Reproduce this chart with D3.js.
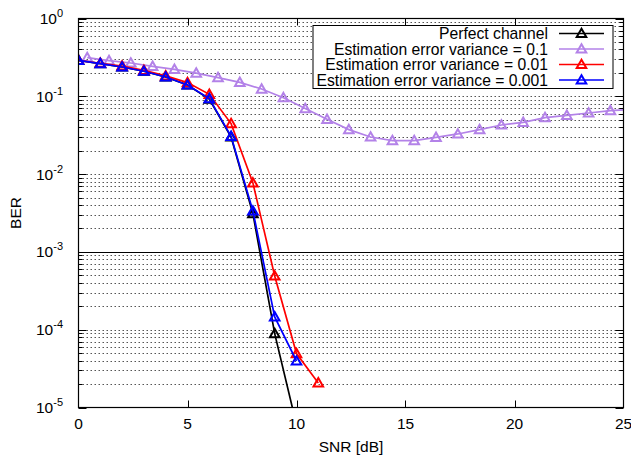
<!DOCTYPE html>
<html lang="en">
<head>
    <meta charset="UTF-8" />
    <title>BER vs SNR</title>
    <script src="https://d3js.org/d3.v7.min.js"></script>
    <style>
        body {
            margin: 0;
            background-color: #fff;
        }
        text {
            font-family: 'Liberation Sans', Arial, sans-serif;
            font-size: 15.5px;
            fill: #000;
        }
    </style>
</head>
<body>
    <svg id="chart"></svg>

    <script>
        // Data
        const snr = [0, 1, 2, 3, 4, 5, 6, 7, 8, 9, 10, 11];
        const perfect = [0.29, 0.263, 0.238, 0.21, 0.177, 0.14, 0.092, 0.030, 0.0031, 8.9e-5, 6e-6];
        const var01 = [0.29, 0.266, 0.245, 0.216, 0.183, 0.15, 0.106, 0.0446, 0.0077, 4.9e-4, 4.93e-5, 2.07e-5];
        const var001 = [0.29, 0.263, 0.238, 0.21, 0.177, 0.14, 0.0933, 0.0306, 0.00336, 1.46e-4, 3.96e-5];
        // the 0.1 curve is sampled half a step off the others
        const snrShifted = [0.4, 1.4, 2.4, 3.4, 4.4, 5.4, 6.4, 7.4, 8.4, 9.4, 10.4, 11.4, 12.4,
            13.4, 14.4, 15.4, 16.4, 17.4, 18.4, 19.4, 20.4, 21.4, 22.4, 23.4, 24.4, 25.4];
        const var1 = [0.314, 0.288, 0.268, 0.243, 0.222, 0.199, 0.174, 0.151, 0.124, 0.096, 0.0695,
            0.0506, 0.0373, 0.030, 0.0269, 0.0269, 0.0297, 0.0328, 0.0373, 0.0428, 0.0463, 0.0532,
            0.057, 0.061, 0.0655, 0.068];

        const xTicks = [0, 5, 10, 15, 20, 25];
        const yExponents = [0, -1, -2, -3, -4, -5];

        const series = [
            { name: "Perfect channel", x: snr, y: perfect, color: "#000000" },
            { name: "Estimation error variance = 0.1", x: snrShifted, y: var1, color: "#b382e8" },
            { name: "Estimation error variance = 0.01", x: snr, y: var01, color: "#ff0000" },
            { name: "Estimation error variance = 0.001", x: snr, y: var001, color: "#0000ff" }
        ];

        const W = 631, H = 459;
        const pLeft = 78.5, pRight = 623.5, pTop = 18.5, pBottom = 407.5;

        const svg = d3.select("#chart")
            .attr("width", W)
            .attr("height", H);

        const x = d3.scaleLinear().domain([0, 25]).range([pLeft, pRight]);
        const y = d3.scaleLog().domain([1e-5, 1]).range([pBottom, pTop]);

        svg.append("clipPath").attr("id", "plotArea")
            .append("rect")
            .attr("x", pLeft).attr("y", pTop)
            .attr("width", pRight - pLeft).attr("height", pBottom - pTop);

        // Horizontal grid, every minor and major value of each decade
        const gridVals = [];
        for (let e = -5; e < 0; e++) {
            for (let m = 1; m <= 9; m++) {
                gridVals.push(m * Math.pow(10, e));
            }
        }
        const grid = svg.append("g");
        gridVals.forEach(v => {
            if (Math.abs(Math.log10(v) + 5) < 1e-9) return;
            const yy = Math.round(y(v)) + 0.5;
            const solid = Math.abs(Math.log10(v) + 3) < 1e-9;
            grid.append("line")
                .attr("x1", pLeft).attr("x2", pRight)
                .attr("y1", yy).attr("y2", yy)
                .attr("stroke", solid ? "#000" : "#555")
                .attr("stroke-width", 1)
                .attr("stroke-dasharray", solid ? null : "1.5,2.5");
        });

        // Y ticks on both sides (major and minor)
        const ticks = svg.append("g").attr("stroke", "#000").attr("stroke-width", 1);
        gridVals.concat([1]).forEach(v => {
            const yy = Math.round(y(v)) + 0.5;
            const major = Math.abs(Math.log10(v) - Math.round(Math.log10(v))) < 1e-9;
            const len = major ? 8 : 4;
            ticks.append("line").attr("x1", pLeft).attr("x2", pLeft + len).attr("y1", yy).attr("y2", yy);
            ticks.append("line").attr("x1", pRight).attr("x2", pRight - len).attr("y1", yy).attr("y2", yy);
        });

        // X ticks, bottom and top
        xTicks.slice(1, -1).forEach(t => {
            const xx = Math.round(x(t)) + 0.5;
            ticks.append("line").attr("x1", xx).attr("x2", xx).attr("y1", pBottom).attr("y2", pBottom - 7);
            ticks.append("line").attr("x1", xx).attr("x2", xx).attr("y1", pTop).attr("y2", pTop + 7);
        });

        // Tick labels
        xTicks.forEach(t => {
            svg.append("text")
                .attr("x", x(t))
                .attr("y", 429)
                .attr("text-anchor", "middle")
                .text(t);
        });

        yExponents.forEach(e => {
            const label = svg.append("text")
                .attr("x", 63)
                .attr("y", y(Math.pow(10, e)) + 5.5)
                .attr("text-anchor", "end");
            label.append("tspan").text("10");
            label.append("tspan")
                .attr("dy", -7)
                .style("font-size", "11px")
                .text(e === 0 ? "0" : "-" + (-e));
        });

        // Axis titles
        svg.append("text")
            .attr("x", (pLeft + pRight) / 2)
            .attr("y", 452)
            .attr("text-anchor", "middle")
            .text("SNR [dB]");

        svg.append("text")
            .attr("transform", "translate(21," + (pTop + pBottom) / 2 + ") rotate(-90)")
            .attr("text-anchor", "middle")
            .text("BER");

        // Triangle marker path
        const tri = (cx, cy) => {
            const s = 4.8;
            return "M" + cx + "," + (cy - s) + "L" + (cx + s) + "," + (cy + s * 0.75) +
                "L" + (cx - s) + "," + (cy + s * 0.75) + "Z";
        };

        const plot = svg.append("g").attr("clip-path", "url(#plotArea)");
        const line = d3.line()
            .x(d => x(d[0]))
            .y(d => y(d[1]));

        series.forEach(s => {
            const pts = s.y.map((v, i) => [s.x[i], v]);
            plot.append("path")
                .datum(pts)
                .attr("fill", "none")
                .attr("stroke", s.color)
                .attr("stroke-width", 1.7)
                .attr("d", line);
            plot.selectAll(null)
                .data(pts.filter(p => p[0] <= 25 && p[1] >= 1e-5))
                .enter()
                .append("path")
                .attr("d", p => tri(x(p[0]), y(p[1])))
                .attr("fill", "none")
                .attr("stroke", s.color)
                .attr("stroke-width", 2);
        });

        // Plot border
        svg.append("rect")
            .attr("x", pLeft).attr("y", pTop)
            .attr("width", pRight - pLeft).attr("height", pBottom - pTop)
            .attr("fill", "none")
            .attr("stroke", "#000")
            .attr("stroke-width", 1.2);

        // Legend
        const lg = { x: 313, y: 25.5, w: 300, h: 63 };
        svg.append("rect")
            .attr("x", lg.x).attr("y", lg.y)
            .attr("width", lg.w).attr("height", lg.h)
            .attr("fill", "#fff")
            .attr("stroke", "#000")
            .attr("stroke-width", 1);

        series.forEach((s, i) => {
            const cy = 33.5 + i * 15.5;
            svg.append("text")
                .attr("x", 548)
                .attr("y", cy + 5.5)
                .attr("text-anchor", "end")
                .style("font-size", "15.7px")
                .text(s.name);
            svg.append("line")
                .attr("x1", 559).attr("x2", 604)
                .attr("y1", cy).attr("y2", cy)
                .attr("stroke", s.color)
                .attr("stroke-width", 1.7);
            svg.append("path")
                .attr("d", tri(581.5, cy))
                .attr("fill", "none")
                .attr("stroke", s.color)
                .attr("stroke-width", 2);
        });
    </script>
</body>
</html>
